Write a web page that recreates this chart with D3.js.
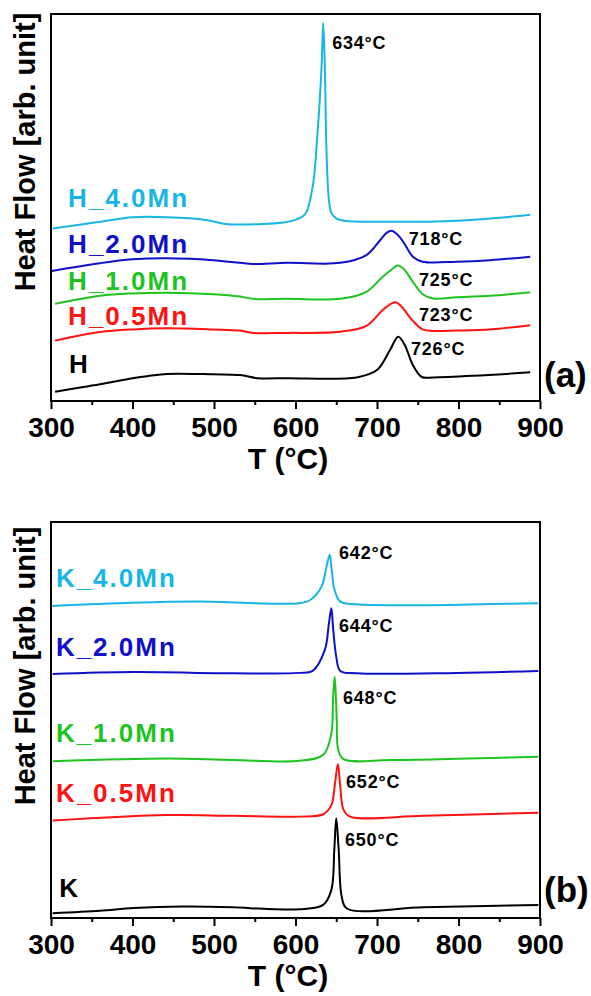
<!DOCTYPE html>
<html>
<head>
<meta charset="utf-8">
<script src="https://cdn.jsdelivr.net/npm/d3@7"></script>
<style>
  body { margin: 0; background: #fff; }
  text { font-family: Arial, "Liberation Sans", sans-serif; font-weight: bold; }
</style>
</head>
<body>
<div id="chart"></div>
<script>
// x axis ticks (°C)
const majorTicks = [300, 400, 500, 600, 700, 800, 900];
const minorTicks = [350, 450, 550, 650, 750, 850];

// panel (a): H samples, [T, heat flow (arb.)]
const H_4_0Mn = [[302,44.6],[360,46.3],[400,47.5],[442,47.5],[490,46.8],[516,45.7],[556,45.7],[585,46.1],[602,47.0],[612,48.3],[621,55.3],[627,69.3],[632,86.3],[634,97.7],[636,86.3],[638,64.9],[641,51.9],[644,48.6],[650,47.2],[660,46.6],[716,46.3],[798,46.6],[859,47.5],[888,48.1]];
const H_2_0Mn = [[301,33.6],[360,35.6],[400,36.6],[442,36.9],[499,36.4],[532,35.7],[548,35.4],[590,35.7],[655,35.7],[687,37.7],[704,41.6],[712,43.5],[718,44.0],[724,43.2],[732,41.2],[744,37.3],[756,36.0],[798,36.0],[839,36.4],[888,37.3]];
const H_1_0Mn = [[305,25.1],[360,27.2],[400,27.8],[442,28.0],[499,27.6],[532,27.0],[548,26.4],[590,26.4],[655,26.4],[687,28.2],[707,32.1],[720,34.3],[725,35.0],[732,34.3],[744,30.8],[756,27.6],[769,26.5],[798,26.8],[839,27.2],[888,28.1]];
const H_0_5Mn = [[305,15.6],[360,17.8],[400,18.5],[442,18.8],[499,18.5],[532,18.2],[548,17.6],[590,17.6],[655,17.9],[687,19.4],[707,23.5],[718,25.2],[723,25.5],[730,24.4],[744,20.7],[756,18.5],[769,18.1],[798,18.2],[839,18.5],[888,19.6]];
const H_0Mn = [[305,2.4],[360,4.3],[400,5.9],[421,6.5],[442,7.0],[499,6.9],[532,6.7],[553,5.9],[590,5.9],[675,6.1],[700,8.0],[716,13.2],[726,16.6],[734,14.5],[744,9.3],[755,6.2],[769,6.1],[818,6.5],[888,7.4]];

// panel (b): K samples
const K_4_0Mn = [[301,78.8],[400,79.6],[483,79.9],[605,79.5],[618,80.3],[632,83.7],[638,88.7],[642,91.7],[644,88.7],[648,82.8],[655,79.9],[675,79.2],[757,79.0],[839,79.3],[898,79.5]];
const K_2_0Mn = [[302,61.6],[401,62.1],[523,61.8],[605,61.9],[621,62.4],[636,67.7],[641,74.4],[644,78.2],[646,73.6],[650,66.0],[655,62.4],[675,61.8],[798,61.9],[898,62.4]];
const K_1_0Mn = [[302,39.6],[442,40.3],[523,39.9],[605,39.7],[634,41.2],[644,46.6],[646,55.1],[648,60.9],[649.7,55.1],[650.6,50.0],[652.5,42.4],[659,40.1],[716,39.9],[798,40.2],[898,40.7]];
const K_0_5Mn = [[302,24.6],[442,26.0],[523,25.8],[605,25.6],[634,26.2],[644,28.5],[648.5,34.0],[652,38.9],[654.6,34.0],[659,27.3],[667,25.6],[757,25.8],[898,26.6]];
const K_0Mn = [[302,1.2],[360,1.8],[401,2.5],[462,2.9],[523,2.7],[565,2.3],[605,2.2],[634,3.3],[644,7.1],[647.6,17.2],[650,25.2],[653,17.2],[656.7,5.4],[663,2.4],[757,2.7],[898,3.3]];

const colors = ["#17b6e3", "#1010c8", "#1ec41e", "#ff1212", "#000000"];

const namesA = ["H_4.0Mn", "H_2.0Mn", "H_1.0Mn", "H_0.5Mn", "H"];
const namesB = ["K_4.0Mn", "K_2.0Mn", "K_1.0Mn", "K_0.5Mn", "K"];
// name label anchors [T, value]
const nameAtA = [[321,50.1],[321,38.2],[321,28.7],[321,19.6],[322,7.2]];
const nameAtB = [[306,83.6],[306,66.2],[306,44.4],[306,29.3],[310,5.3]];

// peak temperatures and label anchors [T, value]
const peaksA = ["634°C", "718°C", "725°C", "723°C", "726°C"];
const peakAtA = [[645,91],[739,40.3],[751.5,29.7],[751.5,20.7],[741.7,11.9]];
const peaksB = ["642°C", "644°C", "648°C", "652°C", "650°C"];
const peakAtB = [[653.4,90.7],[653.4,72.2],[658.3,54.0],[662,32.8],[660.7,18.2]];

const W = 591, H = 996;
const svg = d3.select("#chart").append("svg").attr("width", W).attr("height", H);

const panels = [
  { series: [H_4_0Mn, H_2_0Mn, H_1_0Mn, H_0_5Mn, H_0Mn], names: namesA, nameAt: nameAtA,
    peaks: peaksA, peakAt: peakAtA, top: 14, bottom: 401, tag: "(a)", tagY: 387, labelY: 152 },
  { series: [K_4_0Mn, K_2_0Mn, K_1_0Mn, K_0_5Mn, K_0Mn], names: namesB, nameAt: nameAtB,
    peaks: peaksB, peakAt: peakAtB, top: 522, bottom: 918, tag: "(b)", tagY: 902, labelY: 666 }
];

const left = 51, right = 540;

panels.forEach(p => {
  const x = d3.scaleLinear().domain([300, 900]).range([left, right]);
  const y = d3.scaleLinear().domain([0, 100]).range([p.bottom, p.top]);
  const g = svg.append("g");

  const line = d3.line()
    .x(d => x(d[0]))
    .y(d => y(d[1]))
    .curve(d3.curveCatmullRom.alpha(0.5));

  p.series.forEach((s, i) => {
    g.append("path")
      .datum(s)
      .attr("d", line)
      .attr("fill", "none")
      .attr("stroke", colors[i])
      .attr("stroke-width", 2)
      .attr("stroke-linejoin", "round");
  });

  // frame
  g.append("rect")
    .attr("x", left).attr("y", p.top)
    .attr("width", right - left).attr("height", p.bottom - p.top)
    .attr("fill", "none").attr("stroke", "#000").attr("stroke-width", 2);

  // major ticks + labels
  const ax = g.append("g")
    .attr("transform", `translate(0,${p.bottom})`)
    .call(d3.axisBottom(x).tickValues(majorTicks).tickSize(8).tickSizeOuter(0).tickPadding(8));
  ax.select(".domain").remove();
  ax.selectAll(".tick line").attr("stroke-width", 2);
  ax.selectAll(".tick text")
    .attr("font-size", 28).attr("font-family", "Arial, 'Liberation Sans', sans-serif")
    .attr("font-weight", "bold").attr("fill", "#000")
    .attr("dy", null).attr("y", 36);

  // minor ticks
  const mx = g.append("g")
    .attr("transform", `translate(0,${p.bottom})`)
    .call(d3.axisBottom(x).tickValues(minorTicks).tickSize(4).tickFormat(""));
  mx.select(".domain").remove();
  mx.selectAll(".tick line").attr("stroke-width", 2);

  // x title
  g.append("text")
    .attr("x", 288).attr("y", p.bottom + 68)
    .attr("text-anchor", "middle").attr("font-size", 30)
    .text("T (°C)");

  // y title
  g.append("text")
    .attr("transform", `translate(35,${p.labelY}) rotate(-90)`)
    .attr("text-anchor", "middle").attr("font-size", 29)
    .text("Heat Flow [arb. unit]");

  // sample names
  p.names.forEach((n, i) => {
    g.append("text")
      .attr("x", x(p.nameAt[i][0])).attr("y", y(p.nameAt[i][1]))
      .attr("font-size", 26).attr("letter-spacing", 2)
      .attr("fill", colors[i])
      .text(n);
  });

  // peak labels
  p.peaks.forEach((t, i) => {
    g.append("text")
      .attr("x", x(p.peakAt[i][0])).attr("y", y(p.peakAt[i][1]))
      .attr("font-size", 18).attr("letter-spacing", 0.8)
      .attr("fill", "#000")
      .text(t);
  });

  // panel tag
  g.append("text")
    .attr("x", 544).attr("y", p.tagY)
    .attr("font-size", 35)
    .text(p.tag);
});
</script>
</body>
</html>
